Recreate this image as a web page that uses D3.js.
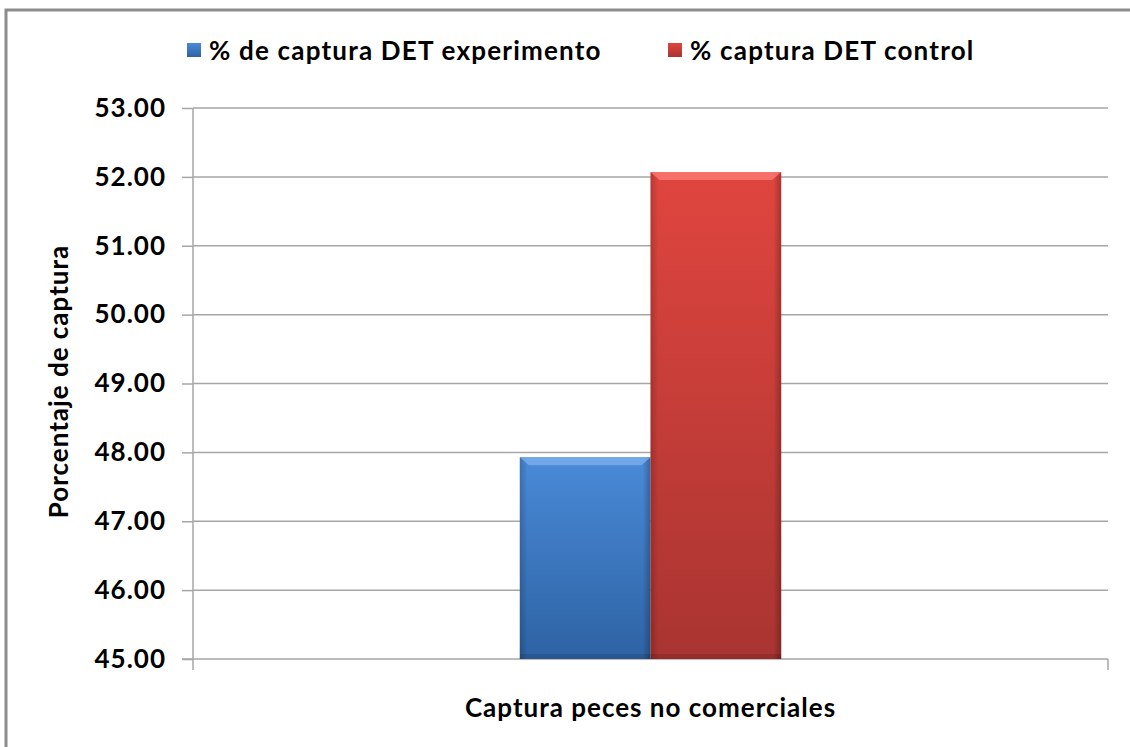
<!DOCTYPE html>
<html>
<head>
<meta charset="utf-8">
<script src="https://cdn.jsdelivr.net/npm/d3@7"></script>
<style>
  body { margin: 0; background: #fff; }
  svg text { font-family: Lato, "Open Sans", sans-serif; font-weight: bold; fill: #000; }
</style>
</head>
<body>
<div id="chart"></div>
<script>
// chart data
const categories = ['Captura peces no comerciales'];
const seriesNames = ['% de captura DET experimento', '% captura DET control'];
const experimento = [47.93];
const control = [52.07];
const yTicks = [45, 46, 47, 48, 49, 50, 51, 52, 53];

const W = 1130, H = 747;
const margin = { top: 108, right: 22, bottom: 88, left: 193 };
const width = W - margin.left - margin.right;
const height = H - margin.top - margin.bottom;

const svg = d3.select('#chart').append('svg')
    .attr('width', W)
    .attr('height', H);

// gradients for the bevelled bars
const defs = svg.append('defs');
const palettes = [
    { id: 'gBlue', top: '#4a8ad8', bot: '#2e63a4', edge: '#7fb2ee' },
    { id: 'gRed', top: '#e0453f', bot: '#a93431', edge: '#ff7d78' }
];
palettes.forEach(p => {
    const g = defs.append('linearGradient').attr('id', p.id)
        .attr('x1', 0).attr('y1', 0).attr('x2', 0).attr('y2', 1);
    g.append('stop').attr('offset', '0%').attr('stop-color', p.top);
    g.append('stop').attr('offset', '100%').attr('stop-color', p.bot);
    const s = defs.append('linearGradient').attr('id', p.id + 'S')
        .attr('x1', 0).attr('y1', 0).attr('x2', 1).attr('y2', 0);
    s.append('stop').attr('offset', '0%').attr('stop-color', '#000').attr('stop-opacity', 0.18);
    s.append('stop').attr('offset', '6%').attr('stop-color', '#000').attr('stop-opacity', 0);
    s.append('stop').attr('offset', '94%').attr('stop-color', '#000').attr('stop-opacity', 0);
    s.append('stop').attr('offset', '100%').attr('stop-color', '#000').attr('stop-opacity', 0.25);
});

// outer frame
svg.append('path')
    .attr('d', `M6,${H} L6,10 L${W},10`)
    .attr('fill', 'none')
    .attr('stroke', '#8c8c8c')
    .attr('stroke-width', 3);

const g = svg.append('g')
    .attr('transform', `translate(${margin.left},${margin.top})`);

const y = d3.scaleLinear().domain([45, 53]).range([height, 0]);
const x0 = d3.scaleBand().domain(categories).range([0, width]).paddingInner(0).paddingOuter(1.25);
const x1 = d3.scaleBand().domain(seriesNames).range([0, x0.bandwidth()]);

// gridlines
g.append('g')
    .selectAll('line')
    .data(yTicks.filter(t => t > 45))
    .enter().append('line')
    .attr('x1', 0).attr('x2', width)
    .attr('y1', d => y(d)).attr('y2', d => y(d))
    .attr('stroke', '#a6a6a6')
    .attr('stroke-width', 1.5);

// y axis
const yAxis = g.append('g')
    .call(d3.axisLeft(y).tickValues(yTicks).tickFormat(d3.format('.2f')).tickSize(11).tickSizeOuter(0));
yAxis.select('.domain').attr('stroke', '#a6a6a6').attr('stroke-width', 1.5)
    .attr('d', `M0,0V${height + 11}`);
yAxis.selectAll('.tick line').attr('stroke', '#a6a6a6').attr('stroke-width', 1.5);
yAxis.selectAll('.tick text')
    .attr('x', -27)
    .style('font-size', '26px')
    .style('letter-spacing', '1px');

// x axis
const xAxis = g.append('g')
    .attr('transform', `translate(0,${height})`)
    .call(d3.axisBottom(x0).tickSize(0).tickSizeOuter(0));
xAxis.select('.domain').attr('stroke', '#a6a6a6').attr('stroke-width', 1.5)
    .attr('d', `M-11,0H${width}`);
xAxis.selectAll('.tick text').remove();
g.append('line')
    .attr('x1', width).attr('x2', width)
    .attr('y1', height).attr('y2', height + 11)
    .attr('stroke', '#a6a6a6').attr('stroke-width', 1.5);

// bars
const values = [experimento, control];
const fills = ['gBlue', 'gRed'];
categories.forEach((c, ci) => {
    seriesNames.forEach((s, si) => {
        const v = values[si][ci];
        const bx = x0(c) + x1(s);
        const by = y(v);
        const bw = x1.bandwidth();
        const bh = y(45) - by;
        const p = palettes[si];
        g.append('rect')
            .attr('x', bx).attr('y', by).attr('width', bw).attr('height', bh)
            .attr('fill', `url(#${fills[si]})`);
        g.append('rect')
            .attr('x', bx).attr('y', by).attr('width', bw).attr('height', bh)
            .attr('fill', `url(#${fills[si]}S)`);
        // top bevel
        g.append('path')
            .attr('d', `M${bx},${by} L${bx + bw},${by} L${bx + bw - 9},${by + 8} L${bx + 9},${by + 8} Z`)
            .attr('fill', p.edge)
            .attr('opacity', 0.75);
        // bottom shade
        g.append('rect')
            .attr('x', bx).attr('y', by + bh - 5).attr('width', bw).attr('height', 5)
            .attr('fill', '#000').attr('opacity', 0.12);
    });
});

// axis titles
svg.append('text')
    .attr('x', margin.left + width / 2 + 0)
    .attr('y', 717)
    .attr('text-anchor', 'middle')
    .style('font-size', '26px')
    .style('letter-spacing', '1px')
    .text('Captura peces no comerciales');

svg.append('text')
    .attr('transform', `translate(68,${margin.top + height / 2 - 2}) rotate(-90)`)
    .attr('text-anchor', 'middle')
    .style('font-size', '26px')
    .style('letter-spacing', '1px')
    .text('Porcentaje de captura');

// legend
const legendX = [187, 668];
const legend = svg.append('g');
seriesNames.forEach((s, i) => {
    const lg = legend.append('g').attr('transform', `translate(${legendX[i]},43)`);
    lg.append('rect')
        .attr('width', 14).attr('height', 14)
        .attr('fill', `url(#${fills[i]})`);
    lg.append('text')
        .attr('x', 22).attr('y', 17)
        .style('font-size', '26px')
        .style('letter-spacing', '1.2px')
        .text(s);
});
</script>
</body>
</html>
